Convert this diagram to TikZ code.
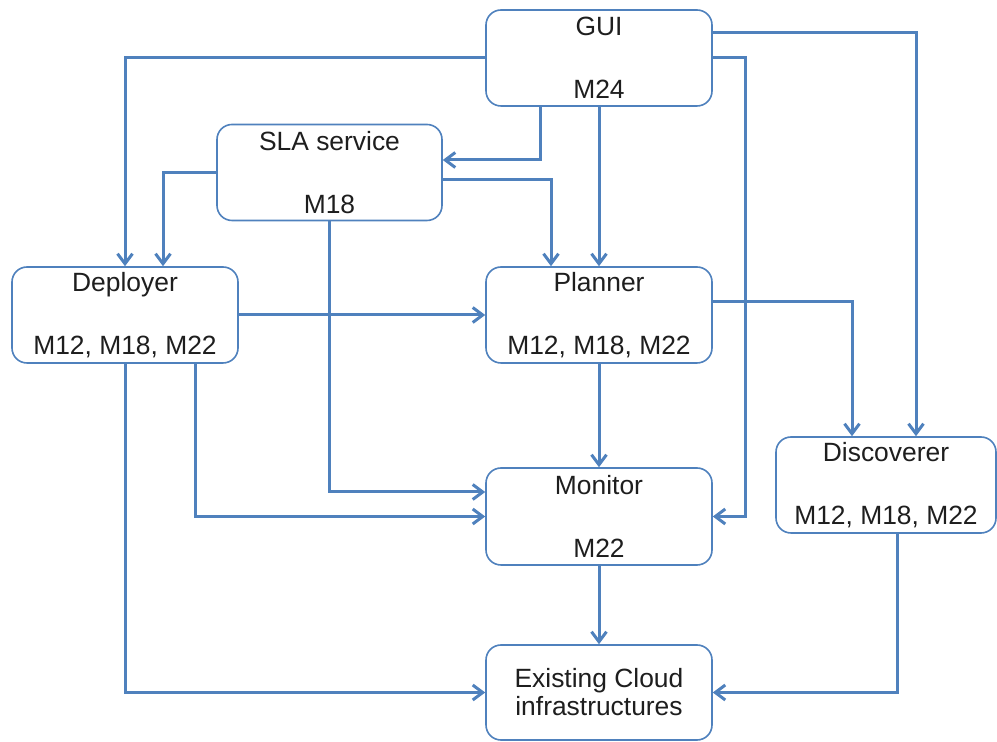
\documentclass[tikz,border=0pt]{standalone}
\usepackage{fontspec}
\setmainfont{Liberation Sans}
\definecolor{dgLine}{RGB}{79,129,189}
\definecolor{dgText}{RGB}{30,30,30}
\usepackage{tikz}
\usetikzlibrary{positioning,arrows.meta}

\begin{document}
\begin{tikzpicture}[x=0.5pt,y=-0.5pt,
    box/.style={draw=dgLine, line width=0.8pt, rounded corners=7.5pt, fill=white,
        minimum width=113pt, minimum height=48pt, inner sep=0pt, align=center,
        text=dgText, font=\fontsize{13.2}{15.8}\selectfont},
    link/.style={draw=dgLine, line width=1.5pt,
        -{Straight Barb[length=5pt,width=7.5pt,line width=1.5pt]}}]
    \useasboundingbox (0,0) rectangle (997,742);

    % components
    \node[box] (GUI) at (599,58) {GUI\\[\baselineskip]M24};
    \node[box, minimum width=112.5pt] (SLA) at (329.5,172.5) {SLA service\\[\baselineskip]M18};
    \node[box] (Deployer) at (125,315) {Deployer\\[\baselineskip]M12, M18, M22};
    \node[box] (Planner) at (599,315) {Planner\\[\baselineskip]M12, M18, M22};
    \node[box, minimum height=48.5pt] (Monitor) at (599,516.5) {Monitor\\[\baselineskip]M22};
    \node[box, minimum width=110pt] (Discoverer) at (886,485) {Discoverer\\[\baselineskip]M12, M18, M22};
    \node[box, minimum height=47.5pt, font=\fontsize{13.2}{14}\selectfont] (Existing) at (599,692.5) {Existing Cloud\\infrastructures};

    % links from GUI
    \draw[link] (GUI.west) -| (Deployer.north);
    \draw[link] ([xshift=-29.5pt]GUI.south) |- ([yshift=6.25pt]SLA.east);
    \draw[link] (GUI.south) -- (Planner.north);
    \draw[link] (GUI.east) -- ++(16.5pt,0) |- (Monitor.east);
    \draw[link] ([yshift=12.5pt]GUI.east) -| ([xshift=15pt]Discoverer.north);

    % links from SLA service
    \draw[link] (SLA.west) -| ([xshift=19pt]Deployer.north);
    \draw[link] ([yshift=-3.75pt]SLA.east) -| ([xshift=-24pt]Planner.north);
    \draw[link] (SLA.south) |- ([yshift=12.25pt]Monitor.west);

    % links from Deployer
    \draw[link] (Deployer.east) -- (Planner.west);
    \draw[link] ([xshift=35pt]Deployer.south) |- (Monitor.west);
    \draw[link] (Deployer.south) |- (Existing.west);

    % links from Planner, Monitor, Discoverer
    \draw[link] ([yshift=6.5pt]Planner.east) -| ([xshift=-17pt]Discoverer.north);
    \draw[link] (Planner.south) -- (Monitor.north);
    \draw[link] (Monitor.south) -- (Existing.north);
    \draw[link] ([xshift=5.5pt]Discoverer.south) |- (Existing.east);
\end{tikzpicture}
\end{document}
